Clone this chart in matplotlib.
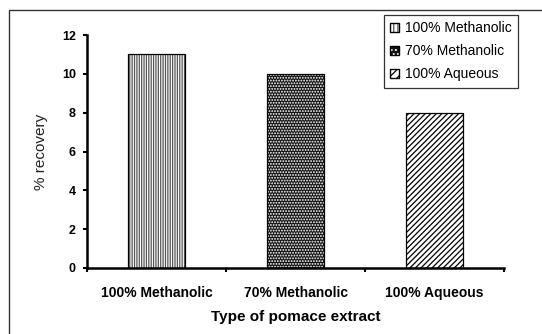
import matplotlib

matplotlib.use("Agg")
import matplotlib.pyplot as plt  # noqa: E402
from matplotlib.patches import Rectangle  # noqa: E402

categories = ["100% Methanolic", "70% Methanolic", "100% Aqueous"]
legend_labels = ["100% Methanolic", "70% Methanolic", "100% Aqueous"]
recovery = [11, 10, 8]
yticks = [0, 2, 4, 6, 8, 10, 12]

# hatch styles per bar: (face, hatch colour, hatch)
styles = [("white", "#555555", "|" * 7), ("#141414", "white", "." * 6), ("white", "black", "/" * 6)]

plt.rcParams["font.family"] = ["Liberation Sans", "DejaVu Sans"]
plt.rcParams["hatch.linewidth"] = 0.9

fig = plt.figure(figsize=(5.42, 3.34), dpi=100)
# outer frame running off the right/bottom edge
fig.patches.append(Rectangle((9 / 542, -0.1), 1.2, 1 - 10 / 334 + 0.1, transform=fig.transFigure,
                             fill=False, edgecolor="#333333", linewidth=1.0))

ax = fig.add_axes([87 / 542, 1 - 268 / 334, (504 - 87) / 542, (268 - 35) / 334])

x = list(range(len(categories)))
handles = []
for i, (v, (fc, hc, h)) in enumerate(zip(recovery, styles)):
    ax.bar(x[i], v, width=0.41, color=fc, edgecolor=hc, hatch=h, linewidth=0, zorder=2)
    ax.bar(x[i], v, width=0.41, fill=False, edgecolor="black", linewidth=0.9, zorder=3)
    handles.append((Rectangle((0, 0), 1, 1, facecolor=fc, edgecolor=hc, hatch=h[:4], linewidth=0),
                    Rectangle((0, 0), 1, 1, fill=False, edgecolor="black", linewidth=1.0)))

ax.set_xlim(-0.5, 2.5)
ax.set_ylim(0, 12)
ax.set_yticks(yticks)
ax.set_yticklabels([str(t) for t in yticks], fontsize=9, fontweight="bold")
ax.set_xticks([-0.5, 0.5, 1.5, 2.5])
ax.set_xticklabels([])
ax.set_xticks(x, minor=True)
ax.set_xticklabels(categories, minor=True, fontsize=10, fontweight="bold")
ax.tick_params(axis="x", which="minor", length=0, pad=13)
ax.tick_params(axis="x", which="major", direction="out", length=3, width=1.5)
ax.tick_params(axis="y", direction="out", length=3, width=1.5, pad=5)

for s in ["top", "right"]:
    ax.spines[s].set_visible(False)
for s in ["left", "bottom"]:
    ax.spines[s].set_linewidth(1.8)

ax.set_ylabel("% recovery", fontsize=11, color="#222222", labelpad=10)
ax.set_xlabel("Type of pomace extract", fontsize=11, fontweight="bold", labelpad=7)

leg = fig.legend(handles, legend_labels, loc="upper right", bbox_to_anchor=(518 / 542, 1 - 15 / 334),
                 bbox_transform=fig.transFigure, borderaxespad=0, fancybox=False, frameon=True,
                 fontsize=10, handlelength=0.65, handleheight=0.65, handletextpad=0.4,
                 labelspacing=0.65, borderpad=0.45)
leg.get_frame().set_edgecolor("black")
leg.get_frame().set_linewidth(0.9)

fig.savefig("out.png", dpi=100)
